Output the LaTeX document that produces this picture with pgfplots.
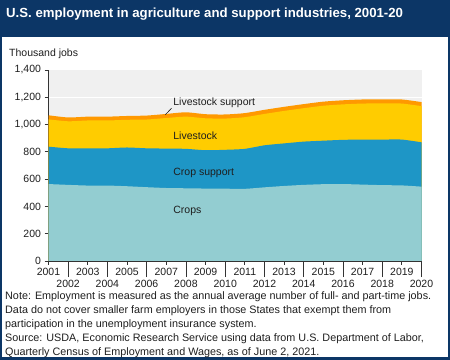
\documentclass[border=0pt]{standalone}
\usepackage{pgfplots}
\pgfplotsset{compat=1.18}
\usepackage{pgfplotstable}
\usepackage{fontspec}
\setmainfont{Liberation Sans}
\definecolor{navy}{RGB}{12,54,102}
\definecolor{cropsc}{RGB}{147,205,209}
\definecolor{cropsupc}{RGB}{30,150,198}
\definecolor{livec}{RGB}{255,204,0}
\definecolor{livesupc}{RGB}{255,153,0}
\definecolor{bggray}{RGB}{240,240,240}
\definecolor{txt}{RGB}{30,30,30}
\pgfplotstableread{
year crops cropsup livestock livesup
2001 564 838 1038 1068
2002 558 826 1024 1052
2003 553 826 1030 1058
2004 553 826 1030 1058
2005 548 832 1035 1063
2006 541 826 1037 1066
2007 535 824 1048 1078
2008 533 822 1058 1090
2009 531 812 1046 1076
2010 530 815 1044 1074
2011 529 822 1054 1084
2012 540 848 1078 1108
2013 550 862 1100 1130
2014 558 875 1120 1150
2015 563 882 1138 1168
2016 564 888 1148 1178
2017 560 890 1154 1184
2018 556 890 1155 1185
2019 554 890 1154 1184
2020 545 870 1135 1165
}\datatable
\begin{document}
\begin{tikzpicture}
\path[use as bounding box] (0pt,0pt) rectangle (450pt,359pt);
\fill[navy] (0pt,321.5pt) rectangle (450pt,359pt);
\draw[navy, line width=4pt] (0pt,0pt) rectangle (450pt,359pt);
\node[anchor=west, text=white, font=\fontsize{13.2}{16}\selectfont\bfseries, inner sep=0pt] at (6pt,345pt) {U.S. employment in agriculture and support industries, 2001-20};
\node[anchor=west, text=txt, font=\fontsize{10.5}{12}\selectfont, inner sep=0pt] at (9pt,305pt) {Thousand jobs};
\begin{axis}[
  at={(48.5pt,98pt)}, anchor=south west, scale only axis,
  width=373pt, height=191pt,
  xmin=2001, xmax=2020, ymin=0, ymax=1400,
  axis background/.style={fill=bggray},
  axis lines=left, axis line style={-, black!80, line width=0.8pt},
  ytick={0,200,...,1400},
  yticklabel style={font=\fontsize{10.5}{12}\selectfont, text=txt},
  /pgf/number format/assume math mode=true,
  /pgf/number format/1000 sep={,},
  ymajorgrids, grid style={white, line width=1pt},
  tick align=outside, major tick length=4pt,
  tick style={black!80, line width=0.8pt},
  xtick={2001,2003,...,2019},
  xticklabel style={font=\fontsize{10.5}{12}\selectfont, text=txt, /pgf/number format/1000 sep=},
  extra x ticks={2002,2004,...,2020},
  extra x tick style={major tick length=16pt, xticklabel style={yshift=0pt}, grid=none},
  extra x tick labels={2002,2004,2006,2008,2010,2012,2014,2016,2018,2020},
  clip=false,
]
\addplot[draw=none, fill=livesupc, smooth, tension=0.4] table[x=year,y=livesup]{\datatable} \closedcycle;
\addplot[draw=none, fill=livec, smooth, tension=0.4] table[x=year,y=livestock]{\datatable} \closedcycle;
\addplot[draw=none, fill=cropsupc, smooth, tension=0.4] table[x=year,y=cropsup]{\datatable} \closedcycle;
\addplot[draw=none, fill=cropsc, smooth, tension=0.4] table[x=year,y=crops]{\datatable} \closedcycle;
\node[anchor=west, text=txt, font=\fontsize{10.5}{12}\selectfont, inner sep=0pt] at (axis cs:2007.35,1158) {Livestock support};
\node[anchor=west, text=txt, font=\fontsize{10.5}{12}\selectfont, inner sep=0pt] at (axis cs:2007.35,916) {Livestock};
\node[anchor=west, text=txt, font=\fontsize{10.5}{12}\selectfont, inner sep=0pt] at (axis cs:2007.35,647) {Crop support};
\node[anchor=west, text=txt, font=\fontsize{10.5}{12}\selectfont, inner sep=0pt] at (axis cs:2007.35,366) {Crops};
\draw[txt, line width=0.6pt] (axis cs:2006.95,1072) -- (axis cs:2007.27,1120);
\end{axis}
\node[anchor=north west, text=txt, font=\fontsize{10.8}{14}\selectfont, inner sep=0pt, align=left] at (5pt,68pt) {Note: Employment is measured as the annual average number of full- and part-time jobs.\\
Data do not cover smaller farm employers in those States that exempt them from\\
participation in the unemployment insurance system.\\
Source: USDA, Economic Research Service using data from U.S. Department of Labor,\\
Quarterly Census of Employment and Wages, as of June 2, 2021.};
\end{tikzpicture}
\end{document}
